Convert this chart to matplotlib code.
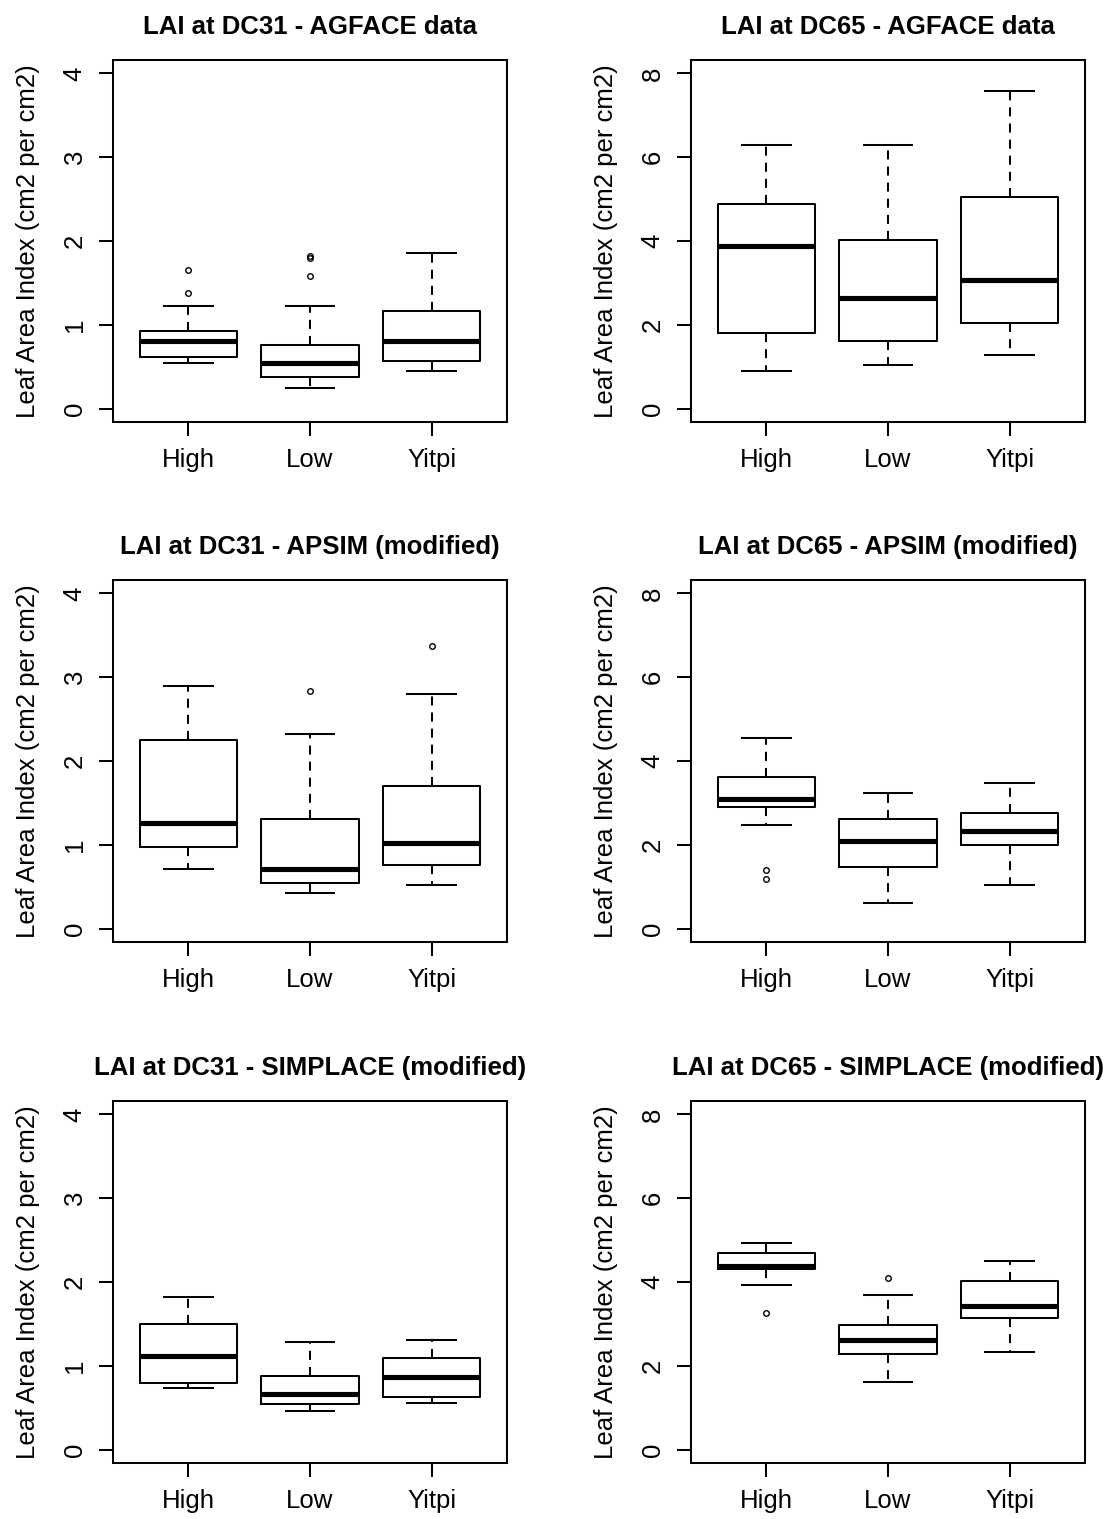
import matplotlib
matplotlib.use("Agg")
import matplotlib.pyplot as plt

plt.rcParams['font.family'] = ['Liberation Sans', 'DejaVu Sans']

groups = ["High", "Low", "Yitpi"]
ylabel = "Leaf Area Index (cm2 per cm2)"

# five-number summaries per group: whisker low, Q1, median, Q3, whisker high
agface_dc31 = [[0.55, 0.62, 0.81, 0.93, 1.22],
               [0.24, 0.38, 0.54, 0.76, 1.22],
               [0.45, 0.57, 0.81, 1.17, 1.86]]
agface_dc31_out = [[1.38, 1.65], [1.58, 1.80, 1.82], []]

agface_dc65 = [[0.90, 1.81, 3.88, 4.88, 6.28],
               [1.04, 1.62, 2.63, 4.02, 6.28],
               [1.28, 2.05, 3.06, 5.06, 7.58]]
agface_dc65_out = [[], [], []]

apsim_dc31 = [[0.71, 0.97, 1.26, 2.25, 2.90],
              [0.42, 0.54, 0.71, 1.31, 2.32],
              [0.52, 0.76, 1.02, 1.70, 2.80]]
apsim_dc31_out = [[], [2.84], [3.37]]

apsim_dc65 = [[2.48, 2.91, 3.10, 3.63, 4.54],
              [0.61, 1.46, 2.09, 2.62, 3.24],
              [1.04, 2.00, 2.34, 2.76, 3.48]]
apsim_dc65_out = [[1.18, 1.41], [], []]

simplace_dc31 = [[0.73, 0.80, 1.12, 1.50, 1.82],
                 [0.46, 0.54, 0.66, 0.88, 1.28],
                 [0.56, 0.63, 0.87, 1.09, 1.31]]
simplace_dc31_out = [[], [], []]

simplace_dc65 = [[3.92, 4.30, 4.38, 4.70, 4.94],
                 [1.62, 2.28, 2.62, 2.97, 3.69],
                 [2.34, 3.15, 3.43, 4.03, 4.50]]
simplace_dc65_out = [[3.25], [4.10], []]

panels = [
    ("LAI at DC31 - AGFACE data", agface_dc31, agface_dc31_out, 4),
    ("LAI at DC65 - AGFACE data", agface_dc65, agface_dc65_out, 8),
    ("LAI at DC31 - APSIM (modified)", apsim_dc31, apsim_dc31_out, 4),
    ("LAI at DC65 - APSIM (modified)", apsim_dc65, apsim_dc65_out, 8),
    ("LAI at DC31 - SIMPLACE (modified)", simplace_dc31, simplace_dc31_out, 4),
    ("LAI at DC65 - SIMPLACE (modified)", simplace_dc65, simplace_dc65_out, 8),
]

W, H = 1115, 1519
fig = plt.figure(figsize=(W / 100, H / 100), dpi=100)

lefts = [113, 691]
tops = [60, 580, 1101]
aw, ah = 394, 362
lw = 1.45
fs = 18.5

for k, (title, summ, outs, ymax) in enumerate(panels):
    l = lefts[k % 2]
    t = tops[k // 2]
    ax = fig.add_axes([l / W, 1 - (t + ah) / H, aw / W, ah / H])

    stats = []
    for name, s, o in zip(groups, summ, outs):
        stats.append(dict(label=name, whislo=s[0], q1=s[1], med=s[2],
                          q3=s[3], whishi=s[4], fliers=o))

    ax.bxp(stats, positions=[1, 2, 3], widths=0.8, capwidths=0.4,
           boxprops=dict(color="black", lw=lw),
           medianprops=dict(color="black", lw=3.7, solid_capstyle="butt"),
           whiskerprops=dict(color="black", lw=lw, linestyle=(0, (4.5, 3.5))),
           capprops=dict(color="black", lw=lw),
           flierprops=dict(marker="o", markersize=4, markerfacecolor="none",
                           markeredgecolor="black", markeredgewidth=1.0,
                           linestyle="none"))

    pad = ymax * 0.04
    ax.set_xlim(0.38, 3.62)
    ax.set_ylim(-pad, ymax + pad)
    ax.set_xticks([1, 2, 3])
    ax.set_xticklabels(groups)
    step = 1 if ymax == 4 else 2
    ax.set_yticks(list(range(0, ymax + 1, step)))

    for sp in ax.spines.values():
        sp.set_linewidth(lw)
    ax.tick_params(direction="out", length=10, width=lw, labelsize=fs, pad=9)
    ax.tick_params(axis="y", labelrotation=90)
    for lab in ax.get_yticklabels():
        lab.set_va("center")

    ax.set_title(title, fontsize=fs, fontweight="bold", pad=19)
    ax.set_ylabel(ylabel, fontsize=fs, labelpad=16)

fig.savefig("out.png", dpi=100)
